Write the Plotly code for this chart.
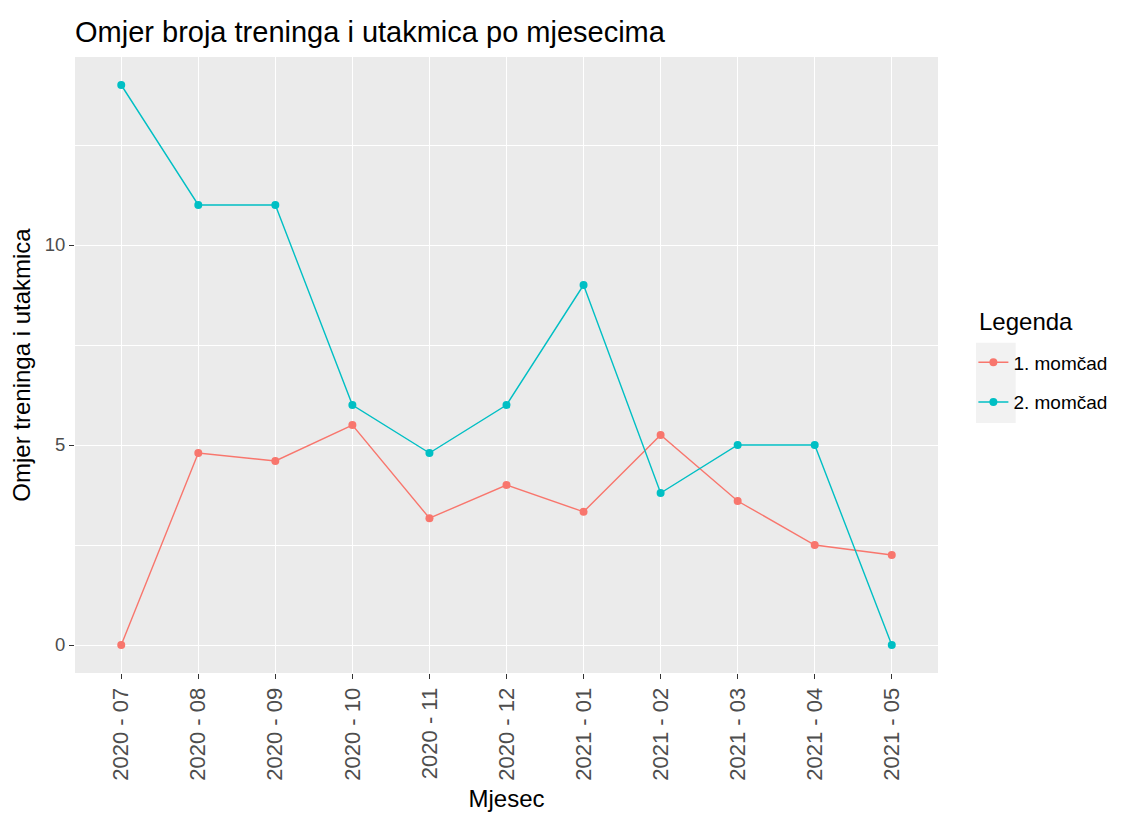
import plotly.graph_objects as go

months = ["2020 - 07", "2020 - 08", "2020 - 09", "2020 - 10", "2020 - 11", "2020 - 12",
          "2021 - 01", "2021 - 02", "2021 - 03", "2021 - 04", "2021 - 05"]
momcad1 = [0, 4.8, 4.6, 5.5, 3.17, 4.0, 3.33, 5.25, 3.6, 2.5, 2.25]
momcad2 = [14, 11, 11, 6, 4.8, 6, 9, 3.8, 5, 5, 0]

fig = go.Figure()
fig.add_trace(go.Scatter(x=months, y=momcad1, mode="lines+markers", name="1. momčad",
                         legendgroup="a",
                         line=dict(color="#F8766D", width=1.4), marker=dict(size=8)))
fig.add_trace(go.Scatter(x=months, y=momcad2, mode="lines+markers", name="2. momčad",
                         legendgroup="b",
                         line=dict(color="#00BFC4", width=1.4), marker=dict(size=8)))

# grey background behind the legend keys (ggplot style)
fig.add_shape(type="rect", xref="paper", yref="paper", x0=1.044, x1=1.090, y0=0.406, y1=0.536,
              fillcolor="#F2F2F2", line=dict(width=0), layer="below")
fig.add_annotation(text="Legenda", xref="paper", yref="paper", x=1.045, y=0.570,
                   xanchor="left", yanchor="middle", showarrow=False,
                   font=dict(size=24, color="black"))

fig.update_layout(
    width=1116, height=805,
    margin=dict(l=67, r=186, t=49, b=140, autoexpand=False),
    paper_bgcolor="white", plot_bgcolor="#EBEBEB",
    font=dict(family="Liberation Sans, Arial", color="black"),
    title=dict(text="Omjer broja treninga i utakmica po mjesecima", x=0.0, xref="paper",
               xanchor="left", y=0.97, yanchor="middle", font=dict(size=29, color="black")),
    legend=dict(font=dict(size=19), x=1.041, xanchor="left", y=0.535, yanchor="top",
                bgcolor="rgba(0,0,0,0)", traceorder="grouped", tracegroupgap=12),
    showlegend=True,
)
fig.update_xaxes(title=dict(text="Mjesec", font=dict(size=24), standoff=10),
                 tickangle=-90, tickfont=dict(size=22, color="#4D4D4D"),
                 showgrid=True, gridcolor="white", gridwidth=1.4, zeroline=False,
                 ticks="outside", ticklen=5, tickcolor="#333333",
                 range=[-0.6, 10.6])
fig.update_yaxes(title=dict(text="Omjer treninga i utakmica", font=dict(size=24), standoff=12),
                 tickfont=dict(size=18.5, color="#4D4D4D"),
                 range=[-0.7, 14.7], tick0=0, dtick=5,
                 showgrid=True, gridcolor="white", gridwidth=1.4, zeroline=False,
                 ticks="outside", ticklen=5, tickcolor="#333333",
                 minor=dict(dtick=2.5, tick0=0, showgrid=True, gridcolor="white", gridwidth=0.7))

fig.write_html("out.html")
